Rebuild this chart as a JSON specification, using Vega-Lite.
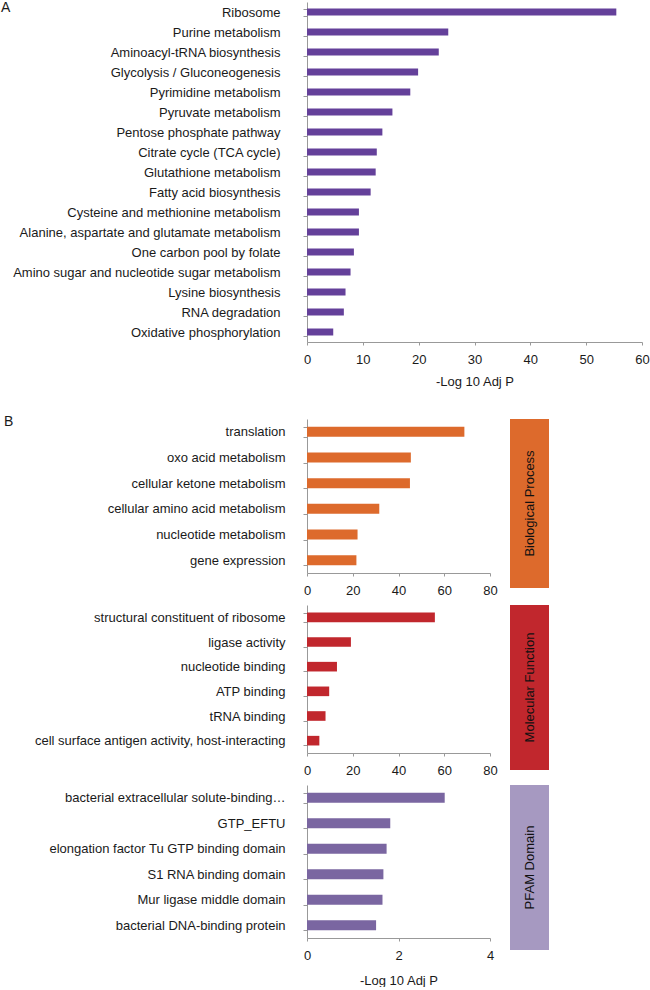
{
  "$schema": "https://vega.github.io/schema/vega-lite/v6.json",
  "padding": {"left": 0, "top": -4, "right": 0, "bottom": 0},
  "background": "white",
  "config": {
    "font": "Liberation Sans",
    "view": {"stroke": null},
    "axis": {
      "labelFont": "Liberation Sans", "titleFont": "Liberation Sans",
      "labelFontSize": 13, "titleFontSize": 13,
      "labelColor": "#1a1a1a", "titleColor": "#1a1a1a", "titleFontWeight": "normal",
      "domainColor": "#999999", "tickColor": "#999999", "grid": false
    },
    "title": {"font": "Liberation Sans", "fontSize": 14, "fontWeight": "normal", "color": "#1a1a1a", "anchor": "start", "frame": "bounds", "baseline": "top", "offset": 0}
  },
  "datasets": {
    "kegg": [
      {"pathway": "Ribosome", "value": 55.4},
      {"pathway": "Purine metabolism", "value": 25.3},
      {"pathway": "Aminoacyl-tRNA biosynthesis", "value": 23.6},
      {"pathway": "Glycolysis / Gluconeogenesis", "value": 19.9},
      {"pathway": "Pyrimidine metabolism", "value": 18.5},
      {"pathway": "Pyruvate metabolism", "value": 15.3},
      {"pathway": "Pentose phosphate pathway", "value": 13.5},
      {"pathway": "Citrate cycle (TCA cycle)", "value": 12.5},
      {"pathway": "Glutathione metabolism", "value": 12.3},
      {"pathway": "Fatty acid biosynthesis", "value": 11.4},
      {"pathway": "Cysteine and methionine metabolism", "value": 9.3},
      {"pathway": "Alanine, aspartate and glutamate metabolism", "value": 9.3},
      {"pathway": "One carbon pool by folate", "value": 8.4},
      {"pathway": "Amino sugar and nucleotide sugar metabolism", "value": 7.8},
      {"pathway": "Lysine biosynthesis", "value": 6.9},
      {"pathway": "RNA degradation", "value": 6.6},
      {"pathway": "Oxidative phosphorylation", "value": 4.7}
    ],
    "bp": [
      {"term": "translation", "value": 68.8},
      {"term": "oxo acid metabolism", "value": 45.4},
      {"term": "cellular ketone metabolism", "value": 45.0},
      {"term": "cellular amino acid metabolism", "value": 31.6},
      {"term": "nucleotide metabolism", "value": 22.1},
      {"term": "gene expression", "value": 21.6}
    ],
    "mf": [
      {"term": "structural constituent of ribosome", "value": 55.9},
      {"term": "ligase activity", "value": 19.2},
      {"term": "nucleotide binding", "value": 13.1},
      {"term": "ATP binding", "value": 9.7},
      {"term": "tRNA binding", "value": 8.1},
      {"term": "cell surface antigen activity, host-interacting", "value": 5.4}
    ],
    "pfam": [
      {"term": "bacterial extracellular solute-binding…", "value": 3.01},
      {"term": "GTP_EFTU", "value": 1.82},
      {"term": "elongation factor Tu GTP binding domain", "value": 1.74},
      {"term": "S1 RNA binding domain", "value": 1.67},
      {"term": "Mur ligase middle domain", "value": 1.65},
      {"term": "bacterial DNA-binding protein", "value": 1.51}
    ]
  },
  "columns": 1,
  "align": "none",
  "spacing": 25,
  "concat": [
    {
      "title": {"text": "A", "dx": 1, "dy": 13, "offset": -6},
      "data": {"name": "kegg"},
      "width": 335,
      "height": 340,
      "mark": {"type": "bar", "color": "#64409a"},
      "encoding": {
        "y": {"field": "pathway", "type": "nominal", "sort": null,
          "scale": {"paddingInner": 0.65, "paddingOuter": 0.325},
          "axis": {"title": null, "tickBand": "extent", "tickSize": 4, "labelPadding": 23, "labelLimit": 0, "minExtent": 307, "maxExtent": 307}},
        "x": {"field": "value", "type": "quantitative", "scale": {"domain": [0, 60]},
          "axis": {"values": [0, 10, 20, 30, 40, 50, 60], "title": "-Log 10 Adj P", "labelFlush": false, "tickSize": 3, "labelPadding": 8, "titlePadding": 9}}
      }
    },
    {
      "columns": 2,
      "spacing": {"row": 2, "column": 12},
      "align": {"row": "each", "column": "each"},
      "concat": [
        {
          "title": {"text": "B", "dx": 4, "dy": 20},
          "data": {"name": "bp"},
          "width": 183,
          "height": 154,
          "mark": {"type": "bar", "color": "#dd6a2c"},
          "encoding": {
            "y": {"field": "term", "type": "nominal", "sort": null,
              "scale": {"paddingInner": 0.61, "paddingOuter": 0.305},
              "axis": {"title": null, "tickBand": "extent", "tickSize": 4, "labelPadding": 18, "labelLimit": 0, "minExtent": 307, "maxExtent": 307}},
            "x": {"field": "value", "type": "quantitative", "scale": {"domain": [0, 80]},
              "axis": {"values": [0, 20, 40, 60, 80], "title": null, "labelFlush": false, "tickSize": 3, "labelPadding": 8}}
          }
        },
        {
          "data": {"values": [{"category": "Biological Process"}]},
          "width": 39,
          "height": 169,
          "layer": [
            {"mark": {"type": "rect", "color": "#dd6a2c"}, "encoding": {}},
            {"mark": {"type": "text", "angle": 270, "fontSize": 13, "color": "#111111"}, "encoding": {"text": {"field": "category"}}}
          ]
        },
        {
          "data": {"name": "mf"},
          "width": 183,
          "height": 148,
          "mark": {"type": "bar", "color": "#c1272d"},
          "encoding": {
            "y": {"field": "term", "type": "nominal", "sort": null,
              "scale": {"paddingInner": 0.61, "paddingOuter": 0.305},
              "axis": {"title": null, "tickBand": "extent", "tickSize": 4, "labelPadding": 18, "labelLimit": 0, "minExtent": 307, "maxExtent": 307}},
            "x": {"field": "value", "type": "quantitative", "scale": {"domain": [0, 80]},
              "axis": {"values": [0, 20, 40, 60, 80], "title": null, "labelFlush": false, "tickSize": 3, "labelPadding": 8}}
          }
        },
        {
          "data": {"values": [{"category": "Molecular Function"}]},
          "width": 39,
          "height": 165,
          "layer": [
            {"mark": {"type": "rect", "color": "#c1272d"}, "encoding": {}},
            {"mark": {"type": "text", "angle": 270, "fontSize": 13, "color": "#111111"}, "encoding": {"text": {"field": "category"}}}
          ]
        },
        {
          "data": {"name": "pfam"},
          "width": 183,
          "height": 153,
          "mark": {"type": "bar", "color": "#7a66a1"},
          "encoding": {
            "y": {"field": "term", "type": "nominal", "sort": null,
              "scale": {"paddingInner": 0.61, "paddingOuter": 0.305},
              "axis": {"title": null, "tickBand": "extent", "tickSize": 4, "labelPadding": 18, "labelLimit": 0, "minExtent": 307, "maxExtent": 307}},
            "x": {"field": "value", "type": "quantitative", "scale": {"domain": [0, 4]},
              "axis": {"values": [0, 2, 4], "title": "-Log 10 Adj P", "labelFlush": false, "tickSize": 3, "labelPadding": 8, "titlePadding": 12}}
          }
        },
        {
          "data": {"values": [{"category": "PFAM Domain"}]},
          "width": 39,
          "height": 165,
          "layer": [
            {"mark": {"type": "rect", "color": "#a699c1"}, "encoding": {}},
            {"mark": {"type": "text", "angle": 270, "fontSize": 13, "color": "#111111"}, "encoding": {"text": {"field": "category"}}}
          ]
        }
      ]
    }
  ]
}
